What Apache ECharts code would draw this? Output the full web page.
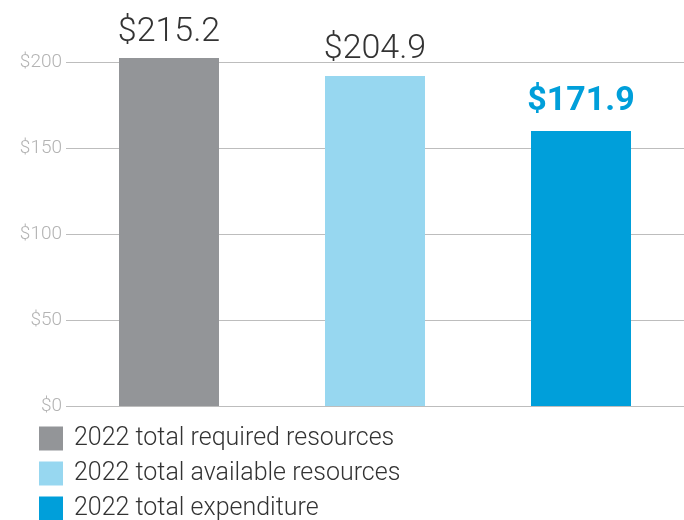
<!DOCTYPE html>
<html>
<head>
<meta charset="utf-8">
<script src="https://cdn.jsdelivr.net/npm/echarts@6/dist/echarts.min.js"></script>
<style>
  html, body { margin: 0; padding: 0; background: #fff; }
  #chart { width: 684px; height: 520px; }
</style>
</head>
<body>
<div id="chart"></div>
<script>
var categories = ['2022 total required resources', '2022 total available resources', '2022 total expenditure'];
// bar heights as drawn on the axis
var values = [202.3, 191.9, 159.9];
// printed labels above bars
var labelTexts = ['$215.2', '$204.9', '$171.9'];
var colors = ['#939598', '#97d7f0', '#009fda'];
var yTicks = [0, 50, 100, 150, 200];

var myChart = echarts.init(document.getElementById('chart'));

var series = categories.map(function (name, i) {
    var data = categories.map(function (c, j) { return j === i ? values[i] : '-'; });
    var last = i === categories.length - 1;
    return {
        name: name,
        type: 'bar',
        stack: 'total',
        barWidth: 100,
        clip: false,
        data: data,
        itemStyle: { color: colors[i] },
        label: {
            show: true,
            position: 'top',
            distance: last ? 12 : 9,
            formatter: function () { return labelTexts[i]; },
            fontFamily: 'Roboto',
            fontSize: 34,
            fontWeight: last ? 'bold' : 300,
            color: last ? '#009fda' : '#333'
        }
    };
});

var option = {
    animation: false,
    textStyle: { fontFamily: 'Roboto' },
    grid: { left: 66, right: 0, top: 62, bottom: 114 },
    legend: {
        orient: 'vertical',
        left: 34,
        top: 421,
        height: 200,
        itemWidth: 24,
        itemHeight: 24,
        itemGap: 10,
        icon: 'rect',
        data: categories,
        textStyle: {
            fontFamily: 'Roboto',
            fontSize: 25,
            fontWeight: 300,
            color: '#333',
            padding: [0, 0, 0, 6]
        }
    },
    xAxis: {
        type: 'category',
        data: categories,
        axisLine: { show: false },
        axisTick: { show: false },
        axisLabel: { show: false }
    },
    yAxis: {
        type: 'value',
        min: yTicks[0],
        max: yTicks[yTicks.length - 1],
        interval: yTicks[1] - yTicks[0],
        axisLine: { show: false },
        axisTick: { show: false },
        axisLabel: {
            formatter: '${value}',
            fontFamily: 'Roboto',
            fontSize: 19,
            fontWeight: 300,
            color: '#b3b3b3',
            margin: 4
        },
        splitLine: { lineStyle: { color: '#bdbdbd', width: 1 } }
    },
    series: series
};

myChart.setOption(option);
</script>
</body>
</html>
